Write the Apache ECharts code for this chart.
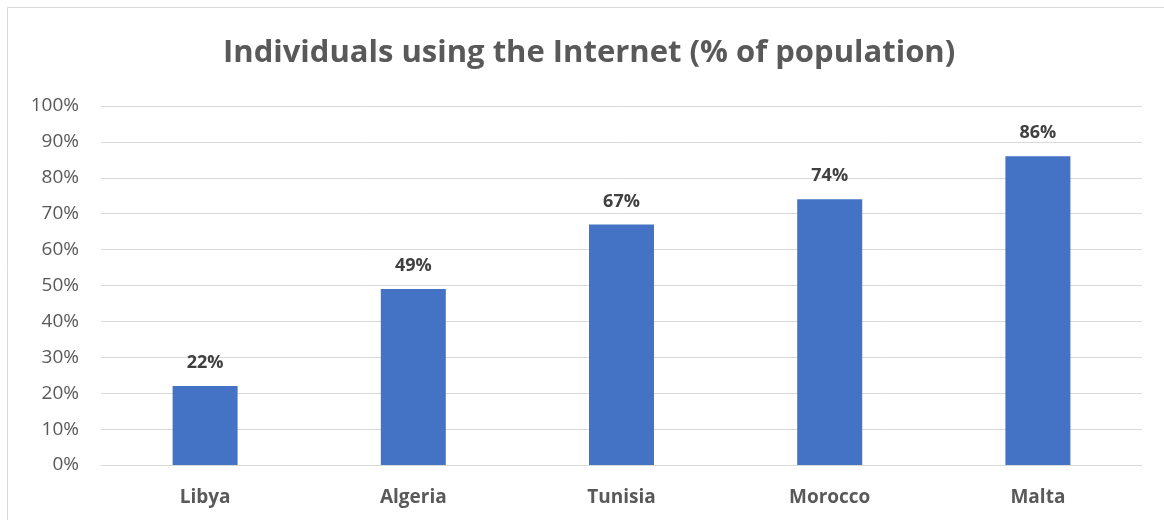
<!DOCTYPE html>
<html>
<head>
<meta charset="utf-8">
<script src="https://cdn.jsdelivr.net/npm/echarts@6/dist/echarts.min.js"></script>
<style>
  html, body { margin: 0; padding: 0; background: #fff; }
  #chart { width: 1164px; height: 520px; }
</style>
</head>
<body>
<div id="chart"></div>
<script>
/* Individuals using the Internet (% of population) */
var countries = ['Libya', 'Algeria', 'Tunisia', 'Morocco', 'Malta'];
var internetUse = [22, 49, 67, 74, 86];
var yTicks = [0, 10, 20, 30, 40, 50, 60, 70, 80, 90, 100];

var chart = echarts.init(document.getElementById('chart'));
chart.setOption({
    animation: false,
    graphic: [{
        type: 'rect',
        shape: { x: 7.5, y: 7.5, width: 1170, height: 530 },
        style: { fill: 'none', stroke: '#d9d9d9', lineWidth: 1 }
    }],
    title: {
        text: 'Individuals using the Internet (% of population)',
        left: 218,
        top: 33,
        textStyle: {
            fontFamily: 'Open Sans',
            fontWeight: 'bold',
            fontSize: 31,
            color: '#595959'
        }
    },
    grid: { left: 101, right: 22, top: 106, bottom: 55 },
    xAxis: {
        type: 'category',
        data: countries,
        axisLine: { lineStyle: { color: '#d9d9d9', width: 1 } },
        axisTick: { show: false },
        axisLabel: {
            margin: 23,
            fontFamily: 'Open Sans',
            fontWeight: 'bold',
            fontSize: 19,
            color: '#595959'
        }
    },
    yAxis: {
        type: 'value',
        min: yTicks[0],
        max: yTicks[yTicks.length - 1],
        interval: 10,
        axisLine: { show: false },
        axisTick: { show: false },
        splitLine: { lineStyle: { color: '#d9d9d9', width: 1 } },
        axisLabel: {
            margin: 22,
            fontFamily: 'Open Sans',
            fontSize: 19,
            color: '#595959',
            formatter: '{value}%'
        }
    },
    series: [{
        type: 'bar',
        data: internetUse,
        barWidth: 65,
        itemStyle: { color: '#4472c4' },
        label: {
            show: true,
            position: 'top',
            distance: 14,
            formatter: '{c}%',
            fontFamily: 'Open Sans',
            fontWeight: 'bold',
            fontSize: 18,
            color: '#404040'
        }
    }]
});
</script>
</body>
</html>
